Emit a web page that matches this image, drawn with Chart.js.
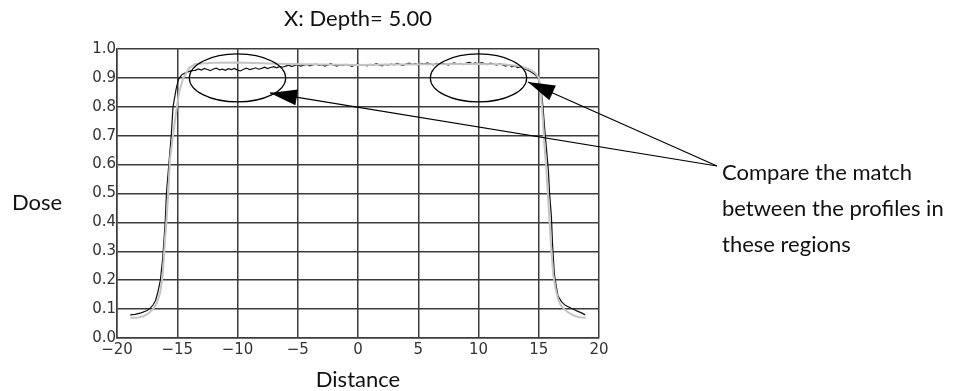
<!DOCTYPE html>
<html><head><meta charset="utf-8">
<script src="https://cdn.jsdelivr.net/npm/chart.js@4/dist/chart.umd.min.js"></script>
<style>html,body{margin:0;padding:0;background:#fff}#wrap{width:954px;height:391px}</style>
</head><body><div id="wrap"><canvas id="c" width="954" height="391"></canvas></div>
<script>
const chartTitle = "X: Depth= 5.00";
const xTitle = "Distance";
const yTitle = "Dose";
const noteLines = ["Compare the match", "between the profiles in", "these regions"];
const xTickValues = [-20, -15, -10, -5, 0, 5, 10, 15, 20];
const yTickValues = [0, 0.1, 0.2, 0.3, 0.4, 0.5, 0.6, 0.7, 0.8, 0.9, 1.0];

// measured profile (black, noisy)
const measuredX = [-18.9,-18.5,-18.0,-17.5,-17.2,-17.0,-16.8,-16.6,-16.4,-16.2,-16.0,-15.9,-15.7,-15.5,-15.35,-15.1,-14.9,-14.6,-14.2,-13.8,
 -13.5,-13.25,-13,-12.75,-12.5,-12.25,-12,-11.75,-11.5,-11.25,-11,-10.75,-10.5,-10.25,-10,-9.75,-9.5,-9.25,-9,-8.75,-8.5,-8.25,-8,-7.75,-7.5,-7.25,-7,-6.75,-6.5,-6.25,-6,-5.75,-5.5,-5.25,-5,-4.75,-4.5,-4.25,-4,-3.75,-3.5,-3.25,-3,-2.75,-2.5,-2.25,-2,-1.75,-1.5,-1.25,-1,-0.75,-0.5,-0.25,
 0,0.25,0.5,0.75,1,1.25,1.5,1.75,2,2.25,2.5,2.75,3,3.25,3.5,3.75,4,4.25,4.5,4.75,5,5.25,5.5,5.75,6,6.25,6.5,6.75,7,7.25,7.5,7.75,8,8.25,8.5,8.75,9,9.25,9.5,9.75,10,10.25,10.5,10.75,11,11.25,11.5,11.75,12,12.25,12.5,12.75,13,13.25,13.5,
 13.75,14.0,14.3,14.6,14.9,15.1,15.25,15.35,15.5,15.65,15.8,15.9,16.05,16.15,16.3,16.45,16.6,16.9,17.2,17.7,18.2,18.6,18.85];
const measuredY = [0.080,0.082,0.087,0.095,0.105,0.115,0.130,0.160,0.200,0.280,0.400,0.500,0.600,0.700,0.800,0.860,0.895,0.912,0.920,0.925,
 0.926,0.931,0.927,0.933,0.929,0.925,0.931,0.934,0.928,0.930,0.926,0.932,0.929,0.933,0.927,0.924,0.930,0.934,0.929,0.931,0.935,0.930,0.933,0.937,0.932,0.936,0.939,0.935,0.940,0.937,0.941,0.944,0.939,0.943,0.946,0.941,0.944,0.947,0.942,0.945,0.948,0.943,0.946,0.941,0.945,0.949,0.944,0.941,0.946,0.943,0.947,0.944,0.940,0.945,
 0.948,0.943,0.946,0.942,0.947,0.944,0.949,0.945,0.942,0.947,0.944,0.948,0.945,0.950,0.946,0.943,0.948,0.951,0.946,0.949,0.945,0.950,0.947,0.952,0.948,0.945,0.950,0.947,0.951,0.948,0.944,0.949,0.952,0.947,0.950,0.946,0.951,0.954,0.949,0.952,0.948,0.953,0.950,0.946,0.951,0.948,0.944,0.949,0.945,0.941,0.946,0.938,0.942,0.936,0.939,
 0.933,0.928,0.922,0.914,0.903,0.880,0.840,0.800,0.720,0.650,0.580,0.500,0.420,0.320,0.220,0.180,0.145,0.125,0.113,0.103,0.093,0.086,0.080];

// calculated profile (light grey, smooth)
const calcX = [-18.9,-18.3,-17.8,-17.4,-17.0,-16.7,-16.4,-16.2,-16.0,-15.9,-15.75,-15.6,-15.35,-15.1,-14.85,-14.5,-14.0,-13.5,-12,-10,-8,-6,-3,0,3,6,9,12,13.5,14.2,14.7,15.0,15.2,15.35,15.45,15.6,15.75,15.9,16.05,16.2,16.4,16.6,16.8,17.1,17.4,17.8,18.3,18.9];
const calcY = [0.070,0.070,0.075,0.085,0.100,0.120,0.160,0.220,0.350,0.400,0.500,0.620,0.700,0.780,0.850,0.900,0.935,0.948,0.952,0.953,0.951,0.948,0.946,0.945,0.946,0.947,0.948,0.947,0.940,0.930,0.918,0.900,0.840,0.750,0.680,0.600,0.500,0.400,0.300,0.220,0.170,0.135,0.115,0.100,0.090,0.080,0.072,0.070];

// annotation regions (data coords) and arrow tips
const regionCenters = [[-10, 0.9], [10, 0.9]];
const regionRadius = [4, 0.083];
const arrowTips = [[-7.3, 0.848], [14.1, 0.886]];

const pts = (xs, ys) => xs.map((x, i) => ({x, y: ys[i]}));
const TXT = "Lato, 'Open Sans', sans-serif";

Chart.defaults.font.family = 'DejaVu Sans';
Chart.defaults.font.size = 15;

const annot = {
  id: 'annot',
  afterDraw(chart) {
    const ctx = chart.ctx, xs = chart.scales.x, ys = chart.scales.y;
    ctx.save();
    ctx.font = `100px ${TXT}`;
    const textSize = 100 * 190 / ctx.measureText(noteLines[0]).width;
    const f = `${textSize.toFixed(1)}px ${TXT}`;
    ctx.fillStyle = '#111';
    ctx.font = f;
    ctx.textAlign = 'center'; ctx.textBaseline = 'middle';
    const cx = (chart.chartArea.left + chart.chartArea.right) / 2;
    ctx.fillText(chartTitle, cx, 19);
    ctx.fillText(xTitle, cx, 380);
    ctx.fillText(yTitle, 37, 203);
    ctx.textAlign = 'left';
    noteLines.forEach((t, i) => ctx.fillText(t, 722, 173 + i * 36));

    ctx.strokeStyle = '#000'; ctx.lineWidth = 1.2;
    regionCenters.forEach(([x, y]) => {
      const px = xs.getPixelForValue(x), py = ys.getPixelForValue(y);
      const rx = xs.getPixelForValue(x + regionRadius[0]) - px;
      const ry = py - ys.getPixelForValue(y + regionRadius[1]);
      ctx.beginPath(); ctx.ellipse(px, py, rx, ry, 0, 0, Math.PI * 2); ctx.stroke();
    });
    const ox = 717, oy = 166;
    arrowTips.forEach(([x, y]) => {
      const tx = xs.getPixelForValue(x), ty = ys.getPixelForValue(y);
      ctx.beginPath(); ctx.moveTo(ox, oy); ctx.lineTo(tx, ty); ctx.stroke();
      const a = Math.atan2(oy - ty, ox - tx);
      const L = 27, W = 8;
      const bx = tx + Math.cos(a) * L, by = ty + Math.sin(a) * L;
      ctx.beginPath();
      ctx.moveTo(tx, ty);
      ctx.lineTo(bx - Math.sin(a) * W, by + Math.cos(a) * W);
      ctx.lineTo(bx + Math.sin(a) * W, by - Math.cos(a) * W);
      ctx.closePath(); ctx.fillStyle = '#000'; ctx.fill();
    });
    ctx.restore();
  }
};

new Chart(document.getElementById('c'), {
  type: 'scatter',
  data: {
    datasets: [
      {label: 'calculated', data: pts(calcX, calcY), showLine: true, borderColor: '#c4c4c4', borderWidth: 2, pointRadius: 0, tension: 0},
      {label: 'measured', data: pts(measuredX, measuredY), showLine: true, borderColor: '#111', borderWidth: 1.2, pointRadius: 0, tension: 0}
    ]
  },
  options: {
    responsive: false, animation: false,
    layout: {padding: {left: 0, right: 355, top: 49, bottom: 0}},
    plugins: {legend: {display: false}, tooltip: {enabled: false}},
    scales: {
      x: {
        type: 'linear', min: -20, max: 20,
        afterBuildTicks: s => { s.ticks = xTickValues.map(v => ({value: v})); },
        afterFit: s => { s.height = 53; },
        grid: {color: '#3c3c3c', lineWidth: 1.5, drawTicks: false},
        border: {color: '#3c3c3c', width: 1.5},
        ticks: {padding: 3, color: '#333', font: {size: 15}, maxRotation: 0,
          callback: v => (v < 0 ? '\u2212' + Math.abs(v) : String(v))}
      },
      y: {
        type: 'linear', min: 0, max: 1,
        afterBuildTicks: s => { s.ticks = yTickValues.map(v => ({value: v})); },
        afterFit: s => { s.width = 117; },
        grid: {color: '#3c3c3c', lineWidth: 1.5, drawTicks: false},
        border: {color: '#3c3c3c', width: 1.5},
        ticks: {padding: 1, color: '#333', font: {size: 15},
          callback: v => v.toFixed(1)}
      }
    }
  },
  plugins: [annot]
});
</script></body></html>
